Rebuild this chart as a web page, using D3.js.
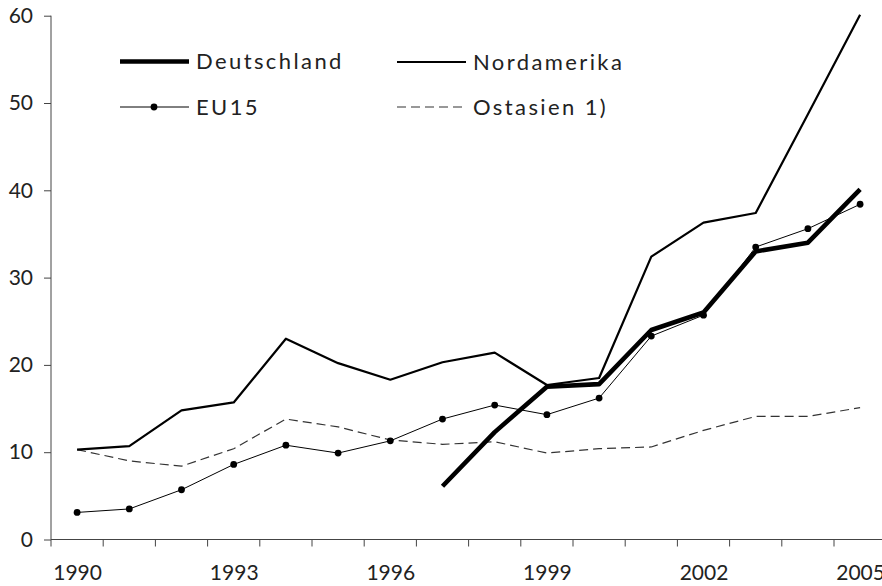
<!DOCTYPE html>
<html>
<head>
<meta charset="utf-8">
<script src="https://cdn.jsdelivr.net/npm/d3@7"></script>
<style>
  body { margin: 0; background: #fff; }
  text { font-family: Lato, "Open Sans", sans-serif; fill: #222; }
</style>
</head>
<body>
<div id="chart"></div>
<script>
// data
var years = d3.range(1990, 2006);
var labelYears = [1990, 1993, 1996, 1999, 2002, 2005];
var yTicks = [0, 10, 20, 30, 40, 50, 60];

var deutschland = [null, null, null, null, null, null, null, 6.1, 12.3, 17.5, 17.8, 24.0, 26.0, 33.0, 34.0, 40.1];
var nordamerika = [10.3, 10.7, 14.8, 15.7, 23.0, 20.2, 18.3, 20.3, 21.4, 17.7, 18.5, 32.4, 36.3, 37.4, 48.7, 60.1];
var eu15 = [3.1, 3.5, 5.7, 8.6, 10.8, 9.9, 11.3, 13.8, 15.4, 14.3, 16.2, 23.3, 25.7, 33.5, 35.6, 38.4];
var ostasien = [10.3, 9.0, 8.4, 10.4, 13.8, 12.9, 11.4, 10.9, 11.2, 9.9, 10.4, 10.6, 12.5, 14.1, 14.1, 15.1];

var seriesNames = ["Deutschland", "Nordamerika", "EU15", "Ostasien 1)"];

var W = 882, H = 586;
var plotLeft = 51, plotTop = 15.7, plotBottom = 539.5;

var svg = d3.select("#chart").append("svg")
    .attr("width", W)
    .attr("height", H);

// the plot area runs past the right edge, like the cropped original
var x = d3.scaleBand().domain(years).range([plotLeft, plotLeft + 16 * 52.2]);
var y = d3.scaleLinear().domain([0, 60]).range([plotBottom, plotTop]);
function cx(i) { return x(years[i]) + x.bandwidth() / 2; }

// y axis
var yAxis = svg.append("g")
    .attr("transform", "translate(" + plotLeft + ",0)")
    .call(d3.axisLeft(y).tickValues(yTicks).tickSize(7).tickPadding(11).tickFormat(d3.format("d")));
yAxis.select(".domain").attr("stroke", "#444").attr("d", "M0," + plotTop + "V" + plotBottom);
yAxis.selectAll(".tick line").attr("stroke", "#444");
yAxis.selectAll("text").style("font-size", "21px").attr("fill", "#222");

// x axis
svg.append("line")
    .attr("x1", plotLeft).attr("x2", W)
    .attr("y1", plotBottom).attr("y2", plotBottom)
    .attr("stroke", "#444");
svg.selectAll(".xtick").data(years).enter().append("line")
    .attr("class", "xtick")
    .attr("x1", function(d) { return x(d); })
    .attr("x2", function(d) { return x(d); })
    .attr("y1", plotBottom).attr("y2", plotBottom + 7)
    .attr("stroke", "#444");
var xLab = d3.scaleLinear().domain([1990, 2005]).range([cx(0), cx(15)]);
var xAxis = svg.append("g")
    .attr("transform", "translate(0," + plotBottom + ")")
    .call(d3.axisBottom(xLab).tickValues(labelYears).tickSize(0).tickPadding(26).tickFormat(d3.format("d")));
xAxis.select(".domain").remove();
xAxis.selectAll("text").style("font-size", "21px").attr("fill", "#222");

// lines
var line = d3.line()
    .defined(function(d) { return d != null; })
    .x(function(d, i) { return cx(i); })
    .y(function(d) { return y(d); });

svg.append("path").datum(ostasien)
    .attr("d", line).attr("fill", "none")
    .attr("stroke", "#333").attr("stroke-width", 1.2)
    .attr("stroke-dasharray", "9,5");

svg.append("path").datum(eu15)
    .attr("d", line).attr("fill", "none")
    .attr("stroke", "#000").attr("stroke-width", 1);
svg.selectAll(".dot").data(eu15).enter().append("circle")
    .attr("class", "dot")
    .attr("cx", function(d, i) { return cx(i); })
    .attr("cy", function(d) { return y(d); })
    .attr("r", 3.4)
    .attr("fill", "#000");

svg.append("path").datum(nordamerika)
    .attr("d", line).attr("fill", "none")
    .attr("stroke", "#000").attr("stroke-width", 2.2)
    .attr("stroke-linejoin", "round");

svg.append("path").datum(deutschland)
    .attr("d", line).attr("fill", "none")
    .attr("stroke", "#000").attr("stroke-width", 4.6)
    .attr("stroke-linejoin", "round");

// legend
var legend = [
  {name: seriesNames[0], x: 120, y: 61.5, w: 4.6, dash: null, dot: false},
  {name: seriesNames[1], x: 397, y: 62, w: 2.2, dash: null, dot: false},
  {name: seriesNames[2], x: 120, y: 107, w: 1, dash: null, dot: true},
  {name: seriesNames[3], x: 397, y: 107, w: 1.2, dash: "9,5", dot: false}
];
var lg = svg.selectAll(".legend").data(legend).enter().append("g")
    .attr("class", "legend")
    .attr("transform", function(d) { return "translate(" + d.x + "," + d.y + ")"; });
lg.append("line")
    .attr("x1", 0).attr("x2", 69)
    .attr("stroke", function(d) { return d.dash ? "#333" : "#000"; })
    .attr("stroke-width", function(d) { return d.w; })
    .attr("stroke-dasharray", function(d) { return d.dash; });
lg.filter(function(d) { return d.dot; }).append("circle")
    .attr("cx", 34).attr("r", 3.4).attr("fill", "#000");
lg.append("text")
    .attr("x", 76).attr("dy", "0.36em")
    .style("font-size", "22px")
    .style("letter-spacing", "2.4px")
    .text(function(d) { return d.name; });
</script>
</body>
</html>
